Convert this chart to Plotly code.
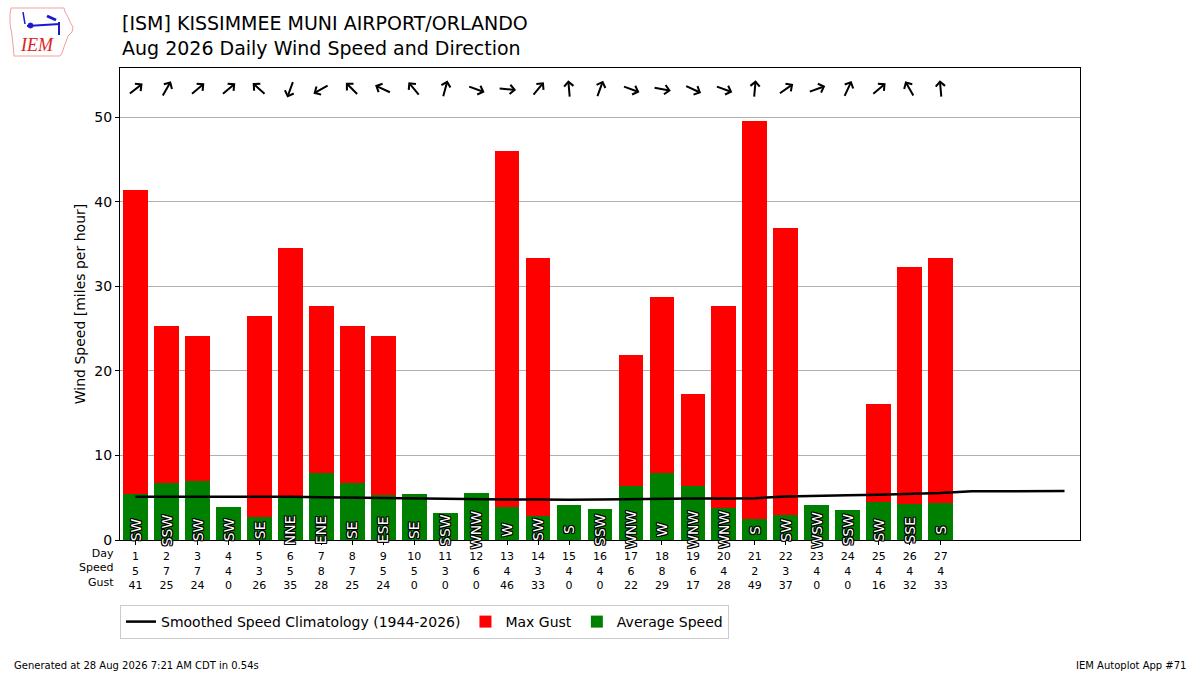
import math
import plotly.graph_objects as go

days = list(range(1, 28))
avg_speed = [5.4, 6.7, 7.0, 3.9, 2.7, 5.0, 7.9, 6.7, 5.3, 5.4, 3.2, 5.6, 3.9, 2.8,
             4.1, 3.7, 6.4, 7.9, 6.4, 3.8, 2.5, 3.0, 4.1, 3.5, 4.5, 4.3, 4.4]
max_gust = [41.4, 25.3, 24.1, 0, 26.5, 34.5, 27.7, 25.3, 24.1, 0, 0, 0, 46.0, 33.3,
            0, 0, 21.9, 28.7, 17.3, 27.7, 49.5, 36.9, 0, 0, 16.1, 32.3, 33.3]
speed_lbl = [5, 7, 7, 4, 3, 5, 8, 7, 5, 5, 3, 6, 4, 3, 4, 4, 6, 8, 6, 4, 2, 3, 4, 4, 4, 4, 4]
gust_lbl = [41, 25, 24, 0, 26, 35, 28, 25, 24, 0, 0, 0, 46, 33, 0, 0, 22, 29, 17, 28, 49, 37, 0, 0, 16, 32, 33]
dir_text = ["SW", "SSW", "SW", "SW", "SE", "NNE", "ENE", "SE", "ESE", "SE", "SSW", "WNW", "W", "SW",
            "S", "SSW", "WNW", "W", "WNW", "WNW", "S", "SW", "WSW", "SSW", "SW", "SSE", "S"]
dir_deg = [232, 210, 230, 230, 132, 20, 60, 135, 115, 140, 195, 290, 275, 220,
           175, 200, 290, 280, 295, 290, 185, 235, 250, 205, 230, 150, 175]
clim_days = list(range(1, 32))
clim_speed = [5.1, 5.1, 5.1, 5.1, 5.15, 5.1, 5.05, 5.0, 5.0, 4.95, 4.9, 4.85, 4.8, 4.8, 4.75, 4.8,
              4.85, 4.9, 4.9, 4.9, 4.95, 5.15, 5.25, 5.3, 5.35, 5.45, 5.55, 5.75, 5.75, 5.75, 5.8]

FONT = "DejaVu Sans"
XR = [0.5, 31.5]
YR = [0, 55.8]
W, H = 1200, 675
ML, MR, MT, MB = 120, 120, 68, 135
PW, PH = W - ML - MR, H - MT - MB
px_x = PW / (XR[1] - XR[0])
px_y = PH / (YR[1] - YR[0])


def pxx(x):
    return (x - ML) / PW


def pxy(y):
    return (MT + PH - y) / PH


fig = go.Figure()
fig.add_trace(go.Bar(x=days, y=max_gust, name="Max Gust", marker_color="#ff0000",
                     marker_line_width=0, width=0.8, legendrank=2))
fig.add_trace(go.Bar(x=days, y=avg_speed, name="Average Speed", marker_color="#008000",
                     marker_line_width=0, width=0.8, legendrank=3))
fig.add_trace(go.Scatter(x=clim_days, y=clim_speed, mode="lines",
                         name="Smoothed Speed Climatology (1944-2026)",
                         line=dict(color="black", width=2.5), legendrank=1))

annotations = []
shadow = ("1px 1px 0 #000, -1px -1px 0 #000, 1px -1px 0 #000, -1px 1px 0 #000, "
          "0 1px 0 #000, 0 -1px 0 #000, 1px 0 0 #000, -1px 0 0 #000")
for d, t in zip(days, dir_text):
    annotations.append(dict(x=d, y=1.2, xref="x", yref="y", text=t, showarrow=False,
                            textangle=-90, xanchor="center", yanchor="middle",
                            font=dict(family=FONT, size=14, color="white", shadow=shadow)))

ARROW_Y = 53.3
HALF = 9
for d, deg in zip(days, dir_deg):
    b = math.radians((deg + 180) % 360)
    sx, sy = math.sin(b), math.cos(b)
    annotations.append(dict(
        x=d + HALF * sx / px_x, y=ARROW_Y + HALF * sy / px_y,
        ax=d - HALF * sx / px_x, ay=ARROW_Y - HALF * sy / px_y,
        xref="x", yref="y", axref="x", ayref="y", text="", showarrow=True,
        arrowhead=4, arrowsize=0.9, arrowwidth=2, arrowcolor="black"))

annotations.append(dict(x=0, y=pxy(545), xref="paper", yref="paper", xanchor="right", yanchor="top",
                        text="Day<br>Speed<br>Gust", align="right", showarrow=False, xshift=-4,
                        font=dict(family=FONT, size=11, color="black")))
annotations.append(dict(x=0, y=pxy(10), xref="paper", yref="paper", xanchor="left", yanchor="top",
                        text="[ISM] KISSIMMEE MUNI AIRPORT/ORLANDO<br>Aug 2026 Daily Wind Speed and Direction",
                        align="left", showarrow=False,
                        font=dict(family=FONT, size=19, color="black")))
annotations.append(dict(x=pxx(12), y=pxy(665), xref="paper", yref="paper", xanchor="left", yanchor="middle",
                        text="Generated at 28 Aug 2026 7:21 AM CDT in 0.54s", showarrow=False,
                        font=dict(family=FONT, size=10, color="black")))
annotations.append(dict(x=pxx(1188), y=pxy(665), xref="paper", yref="paper", xanchor="right", yanchor="middle",
                        text="IEM Autoplot App #71", showarrow=False,
                        font=dict(family=FONT, size=10, color="black")))
annotations.append(dict(x=pxx(37), y=pxy(45), xref="paper", yref="paper", xanchor="center", yanchor="middle",
                        text="<i>IEM</i>", showarrow=False,
                        font=dict(family="Liberation Serif", size=18, color="#dd2222")))

# logo outline (decorative)
outline_px = [(11, 8), (64, 8), (65, 12), (68, 17), (70, 22), (73, 27), (72, 32), (68, 36), (66, 42),
              (64, 47), (62, 53), (60, 56), (14, 56), (13, 45), (12, 35), (10, 24), (10, 14)]
path = "M " + " L ".join(f"{pxx(a):.5f} {pxy(b):.5f}" for a, b in outline_px) + " Z"
shapes = [
    dict(type="path", xref="paper", yref="paper", path=path, line=dict(color="#f2a0a0", width=1)),
    dict(type="line", xref="paper", yref="paper", x0=pxx(27), y0=pxy(26), x1=pxx(60), y1=pxy(24),
         line=dict(color="#1a1acc", width=2)),
    dict(type="circle", xref="paper", yref="paper", x0=pxx(28), y0=pxy(28), x1=pxx(33), y1=pxy(23),
         fillcolor="#1a1acc", line=dict(color="#1a1acc", width=1)),
    dict(type="line", xref="paper", yref="paper", x0=pxx(47), y0=pxy(16), x1=pxx(56), y1=pxy(20),
         line=dict(color="#1a1acc", width=3)),
    dict(type="line", xref="paper", yref="paper", x0=pxx(59), y0=pxy(22), x1=pxx(59), y1=pxy(35),
         line=dict(color="#1a1acc", width=2)),
    dict(type="line", xref="paper", yref="paper", x0=pxx(23), y0=pxy(12), x1=pxx(25), y1=pxy(24),
         line=dict(color="#1a1acc", width=1.5)),
]

tick_text = [f"{d}<br>{s}<br>{g}" for d, s, g in zip(days, speed_lbl, gust_lbl)]

fig.update_layout(
    width=W, height=H,
    margin=dict(l=ML, r=MR, t=MT, b=MB, autoexpand=False),
    paper_bgcolor="white", plot_bgcolor="white",
    barmode="overlay", bargap=0,
    font=dict(family=FONT, size=14, color="black"),
    showlegend=True,
    legend=dict(orientation="h", x=0, y=pxy(605), xanchor="left", yanchor="top",
                bgcolor="white", bordercolor="#cccccc", borderwidth=1,
                font=dict(family=FONT, size=14, color="black"),
                traceorder="normal"),
    annotations=annotations,
    shapes=shapes,
)
fig.update_xaxes(range=XR, tickmode="array", tickvals=days, ticktext=tick_text,
                 ticks="outside", ticklen=4, tickcolor="black", tickfont=dict(size=11, color="black"),
                 ticklabelstandoff=2,
                 showgrid=False, showline=True, linecolor="black", linewidth=1, mirror=True,
                 zeroline=False)
fig.update_yaxes(range=YR, tickvals=[0, 10, 20, 30, 40, 50], ticks="outside", ticklen=4,
                 tickcolor="black", tickfont=dict(size=14, color="black"),
                 showgrid=True, gridcolor="#b0b0b0", gridwidth=1,
                 showline=True, linecolor="black", linewidth=1, mirror=True, zeroline=False,
                 title=dict(text="Wind Speed [miles per hour]", font=dict(size=14, color="black"), standoff=5))

fig.write_html("out.html", config={"displayModeBar": False},
               post_script="document.body.style.margin='0px';")
